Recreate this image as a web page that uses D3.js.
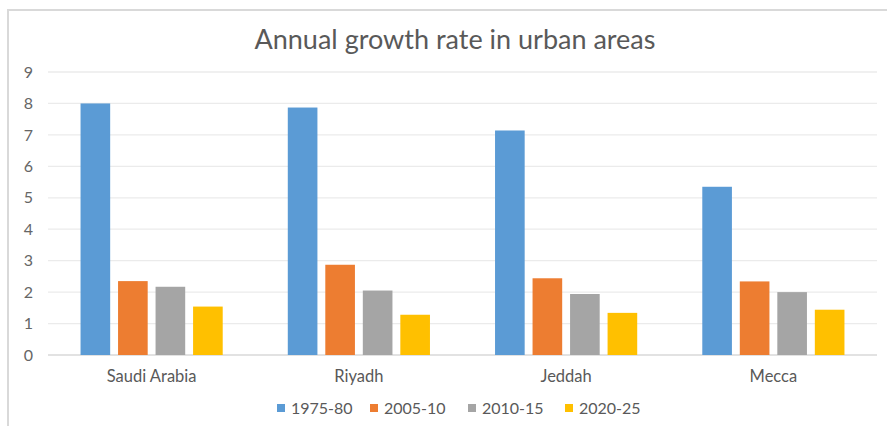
<!DOCTYPE html>
<html>
<head>
<meta charset="utf-8">
<script src="https://cdn.jsdelivr.net/npm/d3@7"></script>
<style>
  body { margin: 0; background: #fff; }
  text { font-family: Lato, "Open Sans", sans-serif; fill: #595959; }
</style>
</head>
<body>
<div id="viz"></div>
<script>
var categories = ['Saudi Arabia', 'Riyadh', 'Jeddah', 'Mecca'];
var seriesNames = ['1975-80', '2005-10', '2010-15', '2020-25'];
var v1975 = [8.0, 7.87, 7.14, 5.35];
var v2005 = [2.35, 2.87, 2.44, 2.34];
var v2010 = [2.17, 2.05, 1.94, 2.0];
var v2020 = [1.54, 1.28, 1.34, 1.44];
var yTicks = [0, 1, 2, 3, 4, 5, 6, 7, 8, 9];
var colors = ['#5b9bd5', '#ed7d31', '#a5a5a5', '#ffc000'];

var seriesValues = [v1975, v2005, v2010, v2020];
var width = 887,
    height = 426,
    plotLeft = 48,
    plotRight = 877,
    plotTop = 72,
    plotBottom = 355;

var svg = d3.select('#viz').append('svg')
    .attr('width', width)
    .attr('height', height);

// chart frame
svg.append('rect')
    .attr('x', 8).attr('y', 10)
    .attr('width', 900).attr('height', 430)
    .style('fill', 'none')
    .style('stroke', '#d9d9d9')
    .style('stroke-width', 2);

var x0 = d3.scaleBand()
    .domain(categories)
    .range([plotLeft, plotRight])
    .paddingInner(0.314)
    .paddingOuter(0.157);

var x1 = d3.scaleBand()
    .domain(seriesNames)
    .range([0, x0.bandwidth()])
    .paddingInner(0.21);

var yScale = d3.scaleLinear()
    .domain([0, 9])
    .range([plotBottom, plotTop]);

// gridlines
svg.append('g').selectAll('line').data(yTicks)
    .enter().append('line')
    .attr('x1', plotLeft).attr('x2', plotRight)
    .attr('y1', function(d) { return yScale(d); })
    .attr('y2', function(d) { return yScale(d); })
    .style('stroke', function(d) { return d === 0 ? '#d9d9d9' : '#ebebeb'; })
    .style('stroke-width', 1.3);

// y axis labels
var yAxis = d3.axisLeft(yScale).tickValues(yTicks).tickSize(0).tickPadding(0);
var yg = svg.append('g')
    .attr('transform', 'translate(' + 33 + ',0)')
    .call(yAxis);
yg.select('.domain').remove();
yg.selectAll('text')
    .style('font-family', 'Lato, sans-serif')
    .style('font-size', '16px')
    .style('fill', '#666');

// bars
var groups = svg.append('g').selectAll('g').data(categories)
    .enter().append('g')
    .attr('transform', function(d) { return 'translate(' + x0(d) + ',0)'; });

groups.selectAll('rect')
    .data(function(d, i) {
        return seriesNames.map(function(s, j) {
            return { series: s, value: seriesValues[j][i], color: colors[j] };
        });
    })
    .enter().append('rect')
    .attr('x', function(d) { return x1(d.series); })
    .attr('width', x1.bandwidth())
    .attr('y', function(d) { return yScale(d.value); })
    .attr('height', function(d) { return plotBottom - yScale(d.value); })
    .style('fill', function(d) { return d.color; });

// category labels
var xAxis = d3.axisBottom(x0).tickSize(0).tickPadding(0);
var xg = svg.append('g')
    .attr('transform', 'translate(0,' + 370 + ')')
    .call(xAxis);
xg.select('.domain').remove();
xg.selectAll('text')
    .style('font-family', 'Lato, sans-serif')
    .style('font-size', '16.5px')
    .style('fill', '#595959');

// title
svg.append('text')
    .attr('x', 455)
    .attr('y', 49)
    .attr('text-anchor', 'middle')
    .style('font-size', '27px')
    .text('Annual growth rate in urban areas');

// legend
var legendX = [277, 370, 468, 565];
var legend = svg.append('g').selectAll('g').data(seriesNames)
    .enter().append('g')
    .attr('transform', function(d, i) { return 'translate(' + legendX[i] + ',' + 408 + ')'; });
legend.append('rect')
    .attr('x', 0).attr('y', -4)
    .attr('width', 8).attr('height', 8)
    .style('fill', function(d, i) { return colors[i]; });
legend.append('text')
    .attr('x', 14)
    .attr('dy', '0.35em')
    .style('font-size', '16px')
    .text(function(d) { return d; });
</script>
</body>
</html>
